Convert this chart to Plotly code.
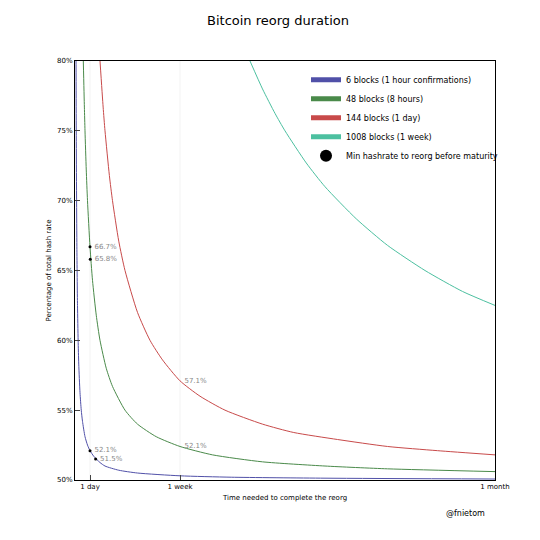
import plotly.graph_objects as go

# hours, percentage of total hash rate
b6_t = [1, 1.2, 1.5, 2, 3, 4, 5, 6, 8, 10, 12, 16, 20, 24, 30, 40, 48, 70, 100, 168, 250, 400, 672]
b6_q = [100, 91.7, 83.3, 75, 66.7, 62.5, 60, 58.3, 56.25, 55, 54.2, 53.1, 52.5, 52.1, 51.7, 51.25, 51.0, 50.7, 50.5, 50.3, 50.2, 50.13, 50.07]
b48_t = [13.3, 15, 16, 18, 20, 24, 28, 34, 40, 50, 60, 80, 100, 130, 168, 220, 300, 400, 500, 672]
b48_q = [80, 76.7, 75, 72.2, 70, 66.7, 64.3, 61.8, 60, 58, 56.7, 55, 54, 53.1, 52.4, 51.8, 51.3, 51.0, 50.8, 50.6]
b144_t = [40, 45, 48, 55, 60, 70, 80, 100, 120, 140, 168, 200, 240, 300, 350, 420, 500, 580, 672]
b144_q = [80, 76.7, 75, 71.8, 70, 67.1, 65, 62, 60, 58.6, 57.1, 56, 55, 54, 53.4, 52.9, 52.4, 52.1, 51.8]
b1008_t = [280, 300, 320, 336, 370, 400, 450, 500, 560, 620, 672]
b1008_q = [80, 78, 76.25, 75, 72.7, 71, 68.7, 66.8, 65, 63.5, 62.5]
dot_t = [24, 24.4, 24, 33]
dot_q = [66.7, 65.8, 52.1, 51.5]
lbl_t = [24, 24.4, 168, 24, 33, 168]
lbl_q = [66.7, 65.8, 57.1, 52.1, 51.5, 52.4]
lbl_txt = ["66.7%", "65.8%", "57.1%", "52.1%", "51.5%", "52.1%"]
x_ticks = [24, 168, 672]
x_labels = ["1 day", "1 week", "1 month"]
y_ticks = [50, 55, 60, 65, 70, 75, 80]

fig = go.Figure()
for t, q, name, col in [(b6_t, b6_q, "6 blocks (1 hour confirmations)", "#5050a8"),
                        (b48_t, b48_q, "48 blocks (8 hours)", "#4a8a4a"),
                        (b144_t, b144_q, "144 blocks (1 day)", "#c84a4a"),
                        (b1008_t, b1008_q, "1008 blocks (1 week)", "#4cc0a0")]:
    fig.add_trace(go.Scatter(x=t, y=q, mode="lines", name=name,
                             line=dict(color=col, width=1, shape="spline", smoothing=0.6)))
fig.add_trace(go.Scatter(x=dot_t, y=dot_q, mode="markers", name="Min hashrate to reorg before maturity",
                         marker=dict(color="black", size=3)))
fig.add_trace(go.Scatter(x=lbl_t, y=lbl_q, mode="text", text=["  " + s for s in lbl_txt],
                         textposition="middle right",
                         textfont=dict(size=7, color="#888"), showlegend=False))
for xv in x_ticks[:2]:
    fig.add_vline(x=xv, line=dict(color="#dddddd", width=1), layer="below")

fig.add_annotation(text="@fnietom", x=0.98, y=-0.095, xref="paper", yref="paper",
                   showarrow=False, xanchor="right", font=dict(size=8))
fig.update_layout(
    width=540, height=540, template="simple_white",
    title=dict(text="Bitcoin reorg duration", x=0.5, y=0.985, yref="container", yanchor="top",
               font=dict(size=13, color="black")),
    margin=dict(l=67, r=53, t=53, b=68, pad=0),
    font=dict(family="DejaVu Sans", size=7, color="black"),
    legend=dict(x=0.55, y=0.99, bgcolor="rgba(0,0,0,0)", font=dict(size=8), tracegroupgap=0,
                itemsizing="constant"),
    xaxis=dict(range=[0, 672], tickvals=x_ticks, ticktext=x_labels, mirror=True, ticks="inside",
               showline=True, linecolor="black", automargin=False,
               title=dict(text="Time needed to complete the reorg", font=dict(size=7), standoff=4)),
    yaxis=dict(range=[50, 80], tickvals=y_ticks, ticktext=[f"{v}%" for v in y_ticks], mirror=True,
               ticks="inside", showline=True, linecolor="black", automargin=False,
               title=dict(text="Percentage of total hash rate", font=dict(size=7), standoff=4)),
)
fig.write_html("out.html")
